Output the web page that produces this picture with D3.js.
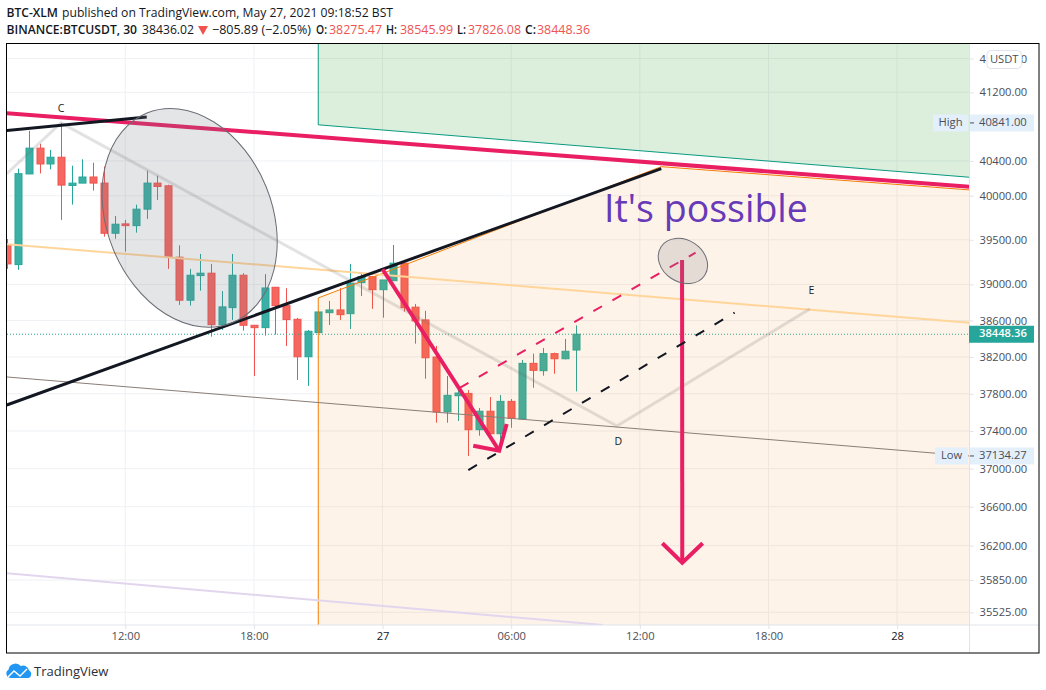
<!DOCTYPE html>
<html>
<head>
<meta charset="utf-8">
<style>
html,body{margin:0;padding:0;background:#fff;}
svg{display:block;font-family:"Open Sans","Noto Sans",sans-serif;}
</style>
<script src="https://cdn.jsdelivr.net/npm/d3@7"></script>
</head>
<body>
<svg id="chart" width="1046" height="690"></svg>
<script>
// ---------- data ----------
const opens  = [39442,39221,40250,40548,40365,40443,40118,40145,40215,40145,39574,39680,39660,39847,40145,40114,39304,38824,39098,39125,38554,38742,39102,38547,38521,38968,38764,38613,38202,38466,38686,38716,38675,39019,39086,38941,39041,39237,38747,38606,38199,37604,37779,37804,37414,37612,37371,37718,37529,38130,38050,38236,38180,38275.47];
const highs  = [39509,40311,40749,40598,40528,40841,40345,40419,40380,40337,39770,39725,39899,40288,40230,40126,39438,39173,39341,39229,38926,39341,39125,38550,39114,38971,38957,38628,38496,38694,38816,38957,39229,39130,39094,39049,39442,39240,38783,38706,38320,37992,37862,37840,37647,37765,37786,37743,38166,38236,38298,38247,38397,38545.99];
const lows   = [39173,39162,40250,40256,40303,39725,39899,40145,40059,39535,39512,39367,39581,39736,39952,39173,38772,38764,38930,38422,38496,38606,38488,37992,38433,38444,38320,37949,37884,38463,38550,38606,38507,38871,38728,38631,39041,38698,38345,37963,37489,37489,37507,37134.27,37350,37371,37233,37435,37518,37865,37996,38017,38174,37826.08];
const closes = [39229,40253,40548,40365,40443,40122,40145,40215,40145,39574,39676,39660,39847,40145,40106,39304,38824,39102,39125,38554,38750,39102,38547,38521,38960,38764,38610,38202,38481,38694,38716,38664,39012,39086,38941,39049,39237,38742,38595,38191,37604,37783,37808,37414,37612,37371,37718,37536,38130,38054,38236,38180,38262,38448.36];
const priceTicks = [41600,41200,40400,40000,39500,39000,38600,38200,37800,37400,37000,36600,36200,35850,35525];
const timeTickHours = [12,18,24,30,36,42,48];
const timeTickLabels = ["12:00","18:00","27","06:00","12:00","18:00","28"];
const firstCandleHour = 6.5;
const highPrice = 40841, lowPrice = 37134.27, lastPrice = 38448.36;

// drawings: [hours from 26 May 00:00, price]
const redLine    = [[6.47,40955],[51.375,40102]];
const blackShort = [[6.47,40753],[13,40909]];
const blackLong  = [[6.47,37679],[37,40311]];
const zigzag     = [[6.47,40253],[9,40841],[34.93,37454],[43.93,38728]];
const paleOrange = [[6.47,39450],[51.375,38576]];
const thinBrown  = [[6.47,37982],[51.375,37134]];
const lavender   = [[6.47,35918],[34.28,35398]];
const greenBox   = [[21,41773],[51.375,41773],[51.375,40212],[21,40819]];
const orangeBox  = [[21,35398],[21,38849],[37,40334],[51.375,40067],[51.375,35398]];
const arrowOne   = [[24,39169],[29.44,37190]];
const arrowOneHead = [[28.23,37243],[29.44,37190],[29.79,37475]];
const arrowTwo   = [[37.97,39274],[37.98,36026]];
const arrowTwoHead = [[37.05,36224],[37.98,36026],[38.93,36224]];
const dashPink   = [[27.6,37865],[38.6,39355]];
const dashBlack  = [[28,36985],[40.42,38686]];
const bigEllipse   = {c:[15.0,39748],major:[16.99,38575],minor:[11.43,39397]};
const smallEllipse = {c:[38.01,39262],major:[39.03,39103],minor:[37.48,39065]};
const messagePos = [34.33,39702];
const letterC = [9,41002], letterD = [35,37285], letterE = [44,38926];

// ---------- scales ----------
const base = Date.UTC(2021,4,26,0,0,0);
const toDate = h => new Date(base + h*3600e3);
const x = d3.scaleTime().domain([toDate(12),toDate(48)]).range([125.3,897.1]);
const y = d3.scaleLog().domain([41200,36600,35525]).range([92.3,506.7,612.3]);
const pt = d => [x(toDate(d[0])), y(d[1])];
const path = d3.line().x(d=>pt(d)[0]).y(d=>pt(d)[1]);

// ---------- layout ----------
const L=7, R=969.5, T=44, B=625;
const ink="#131722", axisInk="#4a4e58", rule="#e0e3eb", grid="#eff1f4";
const up="#26a69a", upFill="#3cb0a4", dn="#ef5350", dnFill="#f6675f", pink="#e91e63";
const svg = d3.select("#chart");
svg.append("defs").append("clipPath").attr("id","plot").append("rect")
  .attr("x",L).attr("y",T).attr("width",R-L).attr("height",B-T);
const plot = svg.append("g").attr("clip-path","url(#plot)");

// grid
plot.append("g").selectAll("line").data(priceTicks).join("line")
  .attr("x1",L).attr("x2",R).attr("y1",d=>y(d)).attr("y2",d=>y(d)).attr("stroke",grid);
plot.append("g").selectAll("line").data(timeTickHours).join("line")
  .attr("x1",d=>x(toDate(d))).attr("x2",d=>x(toDate(d))).attr("y1",T).attr("y2",B).attr("stroke",grid);

// candles
const candles = opens.map((o,i)=>({o,h:highs[i],l:lows[i],c:closes[i],t:toDate(firstCandleHour+i/2)}));
const cg = plot.append("g").selectAll("g").data(candles).join("g");
cg.append("line").attr("x1",d=>Math.round(x(d.t))+.5).attr("x2",d=>Math.round(x(d.t))+.5)
  .attr("y1",d=>y(d.h)).attr("y2",d=>y(d.l)).attr("stroke",d=>d.c>=d.o?up:dn);
cg.append("rect").attr("x",d=>Math.round(x(d.t))-3).attr("width",7)
  .attr("y",d=>y(Math.max(d.o,d.c))).attr("height",d=>Math.max(1,Math.abs(y(d.o)-y(d.c))))
  .attr("fill",d=>d.c>=d.o?upFill:dnFill).attr("stroke",d=>d.c>=d.o?up:dn).attr("stroke-width",1);

// last price dotted
plot.append("line").attr("x1",L).attr("x2",R).attr("y1",y(lastPrice)).attr("y2",y(lastPrice))
  .attr("stroke",up).attr("stroke-dasharray","1 2");

// boxes
const closed = a => path(a)+"Z";
plot.append("path").attr("d",closed(greenBox)).attr("fill","rgba(76,175,80,0.2)");
plot.append("path").attr("d",path([greenBox[0],greenBox[3],greenBox[2]])).attr("fill","none").attr("stroke","#089981").attr("stroke-width",1);
plot.append("path").attr("d",closed(orangeBox)).attr("fill","rgba(245,124,0,0.09)");
plot.append("path").attr("d",path(orangeBox.slice(0,4))).attr("fill","none").attr("stroke","#f57c00").attr("stroke-width",1);

const stroke=(a,c,w,extra)=>{const s=plot.append("path").attr("d",path(a)).attr("fill","none").attr("stroke",c).attr("stroke-width",w);if(extra)s.attr("stroke-dasharray",extra);return s;};
stroke(lavender,"#e2d6ef",2);
stroke(thinBrown,"#8a7d76",1);
stroke(paleOrange,"#ffd59a",2);
stroke(zigzag,"rgba(110,110,110,0.2)",3);
stroke(redLine,pink,4);
stroke(blackLong,ink,3);
stroke(blackShort,ink,3);

// letters
[["C",letterC],["D",letterD],["E",letterE]].forEach(([t,p])=>{
  plot.append("text").text(t).attr("x",pt(p)[0]).attr("y",pt(p)[1]).attr("text-anchor","middle")
    .attr("font-size",10.5).attr("fill",ink).attr("dominant-baseline","middle");
});

// arrows
stroke(arrowOne,pink,4);
stroke(arrowOneHead,pink,4).attr("stroke-linejoin","miter");
stroke(arrowTwo,pink,4);
stroke(arrowTwoHead,pink,4);
stroke(dashPink,pink,2,"10 12");
stroke(dashBlack,ink,2,"10 12");

// ellipses
[bigEllipse,smallEllipse].forEach(e=>{
  const c=pt(e.c), m=pt(e.major), n=pt(e.minor);
  const rx=Math.hypot(m[0]-c[0],m[1]-c[1]), ry=Math.hypot(n[0]-c[0],n[1]-c[1]);
  const ang=Math.atan2(m[1]-c[1],m[0]-c[0])*180/Math.PI;
  plot.append("ellipse").attr("cx",0).attr("cy",0).attr("rx",rx).attr("ry",ry)
    .attr("transform",`translate(${c[0]},${c[1]}) rotate(${ang})`)
    .attr("fill","rgba(120,123,134,0.2)").attr("stroke","#6b6d76").attr("stroke-width",1);
});

// message
plot.append("text").text("It's possible").attr("x",pt(messagePos)[0]).attr("y",pt(messagePos)[1])
  .attr("font-size",37.5).attr("fill","#673ab7");

// axes
const yAxis = d3.axisRight(y).tickValues(priceTicks).tickFormat(d3.format(".2f")).tickSize(4).tickPadding(6);
const yg = svg.append("g").attr("transform",`translate(${R},0)`).call(yAxis);
yg.select(".domain").remove();
yg.selectAll("line").attr("stroke",rule);
yg.selectAll("text").attr("fill",axisInk).attr("font-size",11.2).attr("font-family",'"Open Sans",sans-serif');

const xAxis = d3.axisBottom(x).tickValues(timeTickHours.map(toDate)).tickFormat((d,i)=>timeTickLabels[i]).tickSize(4).tickPadding(3);
const xg = svg.append("g").attr("transform",`translate(0,${B})`).call(xAxis);
xg.select(".domain").remove();
xg.selectAll("line").attr("stroke",rule);
xg.selectAll("text").attr("fill",(d,i)=>(i==2||i==6)?ink:axisInk).attr("font-size",11.2).attr("font-family",'"Open Sans",sans-serif');

// rules + frame
svg.append("line").attr("x1",L).attr("x2",1039).attr("y1",B).attr("y2",B).attr("stroke",rule);
svg.append("line").attr("x1",R).attr("x2",R).attr("y1",T).attr("y2",653).attr("stroke",rule);
svg.append("rect").attr("x",6.5).attr("y",43.5).attr("width",1032.5).attr("height",609.5).attr("fill","none").attr("stroke","#000").attr("stroke-width",1);

// price tags
[[highPrice,"High",933],[lowPrice,"Low",935]].forEach(([p,t,s])=>{
  svg.append("rect").attr("x",s).attr("y",y(p)-8.5).attr("width",968-s).attr("height",17).attr("fill","#e3effb");
  svg.append("text").text(t).attr("x",(s+968)/2).attr("y",y(p)).attr("text-anchor","middle").attr("dominant-baseline","middle").attr("font-size",11.2).attr("fill",axisInk);
  svg.append("rect").attr("x",970).attr("y",y(p)-8.5).attr("width",64).attr("height",17).attr("fill","#e3effb");
  svg.append("line").attr("x1",970).attr("x2",974).attr("y1",y(p)).attr("y2",y(p)).attr("stroke",axisInk);
  svg.append("text").text(d3.format(".2f")(p)).attr("x",979).attr("y",y(p)).attr("dominant-baseline","middle").attr("font-size",11.2).attr("fill",axisInk);
});
svg.append("rect").attr("x",969).attr("y",y(lastPrice)-8.5).attr("width",65).attr("height",17).attr("fill",up);
svg.append("text").text(d3.format(".2f")(lastPrice)).attr("x",979).attr("y",y(lastPrice)).attr("dominant-baseline","middle").attr("font-size",11.2).attr("font-weight",600).attr("fill","#fff");

// USDT button
svg.append("rect").attr("x",987).attr("y",50.5).attr("width",34.5).attr("height",18).attr("rx",4).attr("fill","#fff").attr("stroke","#e0e3eb");
svg.append("text").text("USDT").attr("x",1004.2).attr("y",59.5).attr("text-anchor","middle").attr("dominant-baseline","middle").attr("font-size",11.2).attr("fill",axisInk);

// header
const hdr=(t,xx,yy,w,bold,col)=>svg.append("text").text(t).attr("x",xx).attr("y",yy).attr("font-size",12.6).attr("font-weight",bold?600:400).attr("fill",col||ink).attr("textLength",w).attr("lengthAdjust","spacingAndGlyphs");
hdr("BTC-XLM",6.5,17,51.5,true);
hdr("published on TradingView.com, May 27, 2021 09:18:52 BST",62,17,331,false);
hdr("BINANCE:BTCUSDT, 30",6.5,34,130.5,true);
hdr("38436.02",142,34,52,false);
svg.append("path").attr("d","M198 26h10l-5 9z").attr("fill",dn);
hdr("\u2212805.89 (\u22122.05%)",212,34,99,false);
[["O:",316,329,38275.47],["H:",386,400,38545.99],["L:",457,468,37826.08],["C:",525,537,38448.36]].forEach(([a,x1,x2,v])=>{
  hdr(a,x1,34,a=="L:"?9:11,true); hdr(d3.format(".2f")(v),x2,34,53,false,dn);
});

// footer
svg.append("path").attr("d","M10.5 678a4.5 4.5 0 0 1-2-8.3a7 7 0 0 1 12.3-3.6a6 6 0 0 1 8.2 4.2a4.2 4.2 0 0 1-.5 7.7z").attr("fill","#2196f3");
svg.append("path").attr("d","M8 677l6-6l6 5l7-7").attr("fill","none").attr("stroke","#fff").attr("stroke-width",1.4);
svg.append("text").text("TradingView").attr("x",34).attr("y",676).attr("font-size",13).attr("fill","#2a2e39");
</script>
</body>
</html>
